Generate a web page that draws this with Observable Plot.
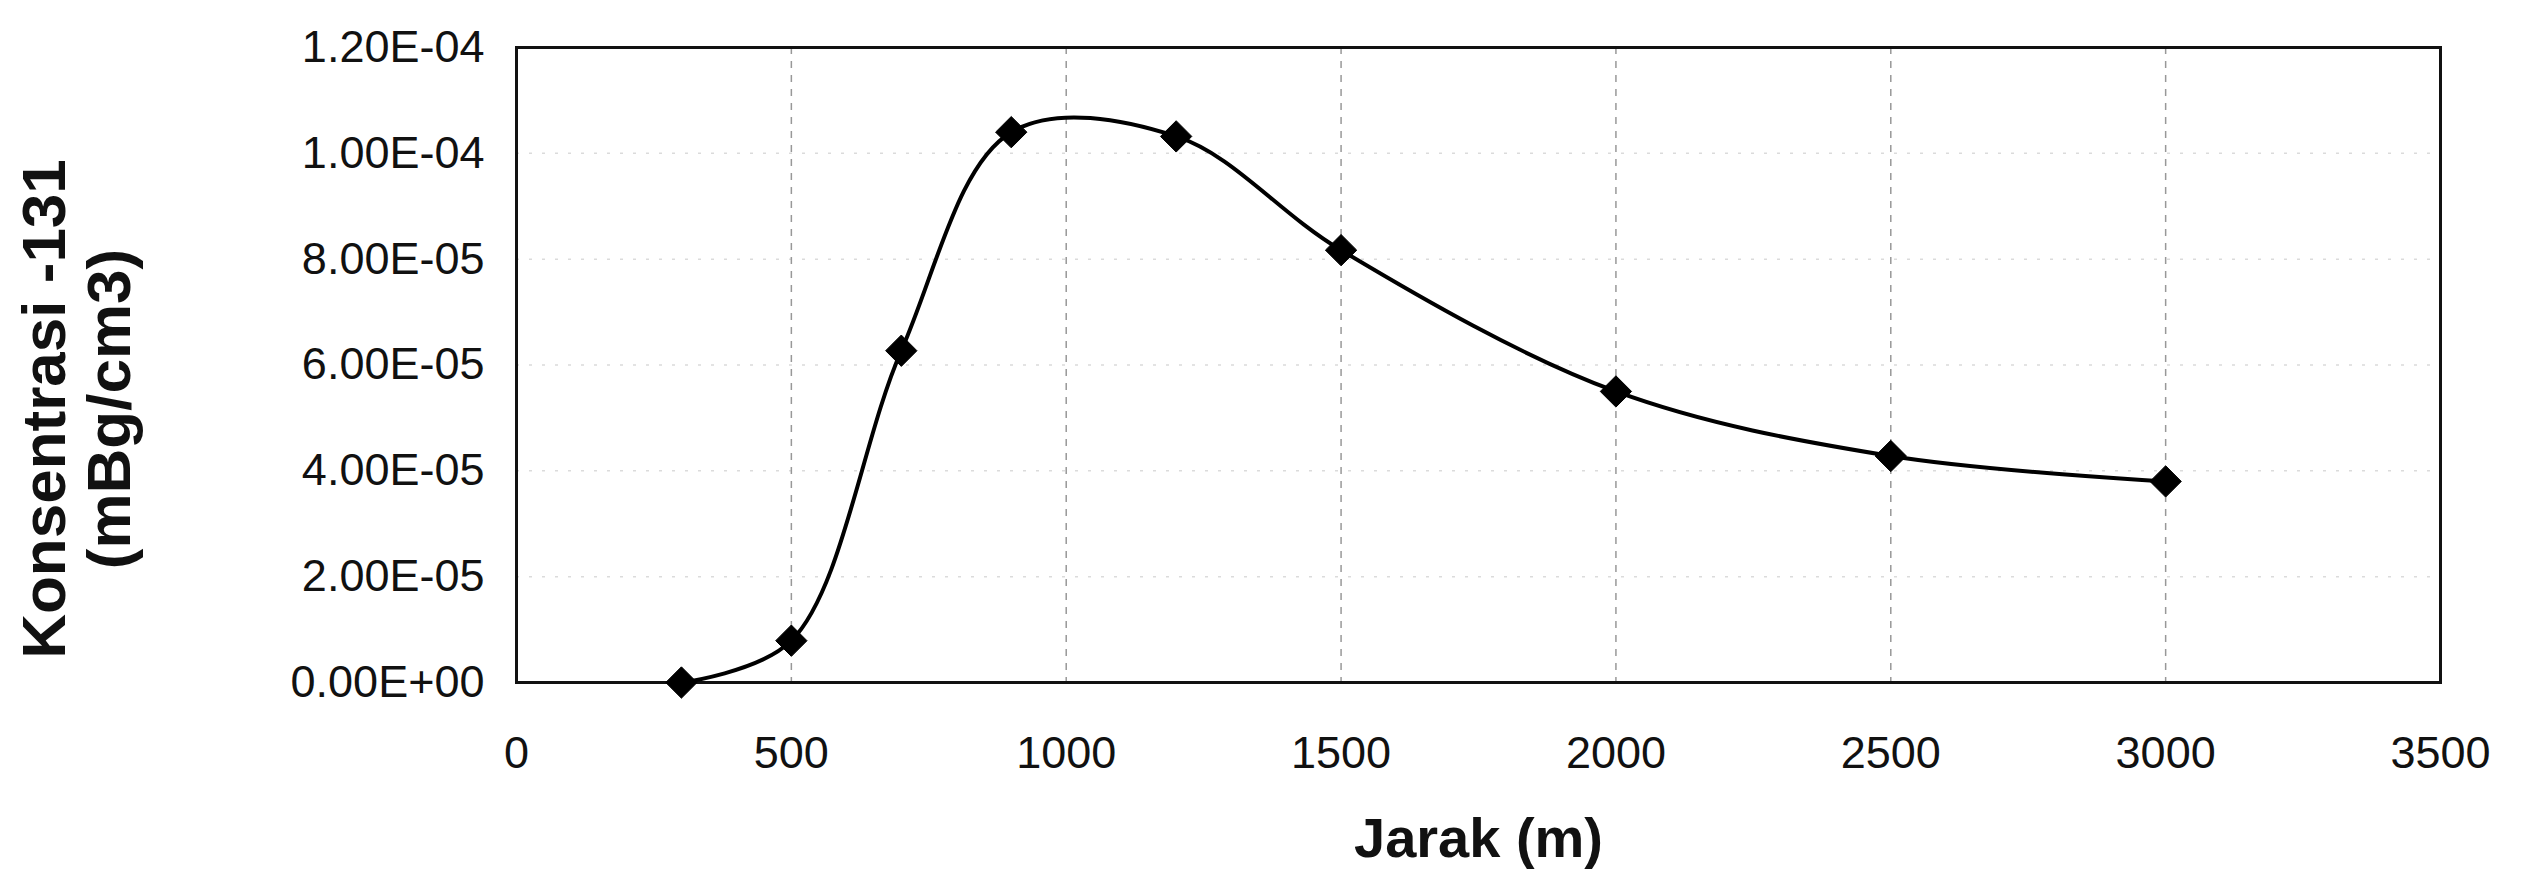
<!DOCTYPE html>
<html>
<head>
<meta charset="utf-8">
<script src="https://cdn.jsdelivr.net/npm/d3@7"></script>
<script src="https://cdn.jsdelivr.net/npm/@observablehq/plot@0.6"></script>
<style>
  html, body { margin: 0; padding: 0; background: #fff; }
  svg { display: block; }
</style>
</head>
<body>
<div id="chart"></div>
<script>
// Data
const jarak = [300, 500, 700, 900, 1200, 1500, 2000, 2500, 3000];
const konsentrasi = [0, 7.9e-6, 6.27e-5, 1.04e-4, 1.032e-4, 8.17e-5, 5.5e-5, 4.28e-5, 3.8e-5];
const xTicks = [0, 500, 1000, 1500, 2000, 2500, 3000, 3500];
const yTicks = [0, 2e-5, 4e-5, 6e-5, 8e-5, 1e-4, 1.2e-4];
const xTitle = "Jarak (m)";
const yTitleLines = ["Konsentrasi -131", "(mBg/cm3)"];

const data = jarak.map((x, i) => ({x, y: konsentrasi[i]}));

const fmt = d => d.toExponential(2).toUpperCase().replace(/E([+-])(\d)$/, "E$10$2");

const diamond = {
  draw(context, size) {
    const h = Math.sqrt(size / 2);
    context.moveTo(0, -h);
    context.lineTo(h, 0);
    context.lineTo(0, h);
    context.lineTo(-h, 0);
    context.closePath();
  }
};

const font = "Liberation Sans, Arial, sans-serif";

const chart = Plot.plot({
  width: 2529,
  height: 873,
  marginLeft: 516,
  marginRight: 89,
  marginTop: 47,
  marginBottom: 191,
  style: {fontFamily: font, color: "#111", background: "#fff"},
  x: {domain: [0, 3500]},
  y: {domain: [0, 1.2e-4]},
  marks: [
    Plot.gridX(xTicks.filter(d => d > 0 && d < 3500), {stroke: "#444", strokeOpacity: 0.55, strokeWidth: 1.5, strokeDasharray: "7,7"}),
    Plot.gridY(yTicks.filter(d => d > 0 && d < 1.2e-4), {stroke: "#999", strokeOpacity: 0.35, strokeWidth: 1.5, strokeDasharray: "3,10"}),
    Plot.frame({stroke: "#111", strokeWidth: 3}),
    Plot.line(data, {x: "x", y: "y", curve: "catmull-rom", stroke: "#000", strokeWidth: 4}),
    Plot.dot(data, {x: "x", y: "y", symbol: diamond, r: 12.5, fill: "#000", stroke: "#000", strokeWidth: 1}),
    Plot.axisX({ticks: xTicks, tickSize: 0, tickPadding: 54, fontSize: 45, label: null, tickFormat: d => String(d)}),
    Plot.axisY({ticks: yTicks, tickSize: 0, tickPadding: 32, fontSize: 45, label: null, tickFormat: fmt}),
    Plot.text([xTitle], {frameAnchor: "bottom", dy: 157, fontSize: 56, fontWeight: "bold", lineAnchor: "middle", fill: "#111"}),
    Plot.text([yTitleLines[0]], {frameAnchor: "left", dx: -471, dy: 44, rotate: -90, fontSize: 62, fontWeight: "bold", textAnchor: "middle", lineAnchor: "middle", fill: "#111"}),
    Plot.text([yTitleLines[1]], {frameAnchor: "left", dx: -406, dy: 44, rotate: -90, fontSize: 62, fontWeight: "bold", textAnchor: "middle", lineAnchor: "middle", fill: "#111"})
  ]
});

document.getElementById("chart").appendChild(chart);
</script>
</body>
</html>
